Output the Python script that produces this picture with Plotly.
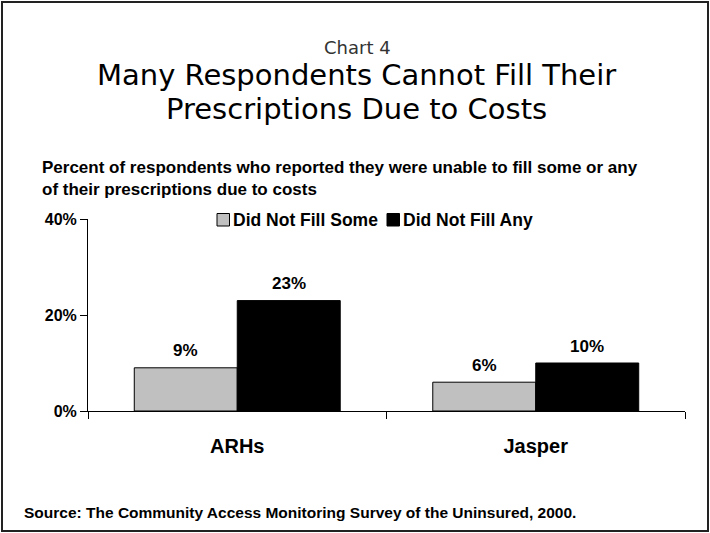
import plotly.graph_objects as go

categories = ["ARHs", "Jasper"]
did_not_fill_some = [9, 6]
did_not_fill_any = [23, 10]
series_names = ["Did Not Fill Some", "Did Not Fill Any"]
series_colors = ["#c0c0c0", "#000000"]
y_ticks = [0, 20, 40]
y_tick_labels = ["0%", "20%", "40%"]

W, H = 710, 533
L, R, T, B = 88, 25, 219, 122
PW, PH = W - L - R, H - T - B

def px(x):
    return (x - L) / PW

def py(y):
    return (H - B - y) / PH

ARIAL = "Liberation Sans, Arial, sans-serif"
TITLEF = "DejaVu Sans, Verdana, sans-serif"
BARGAP = 0.31

fig = go.Figure()
for name, vals, col in zip(series_names, [did_not_fill_some, did_not_fill_any], series_colors):
    fig.add_trace(go.Bar(
        name=name, x=categories, y=vals,
        marker=dict(color=col, line=dict(color="black", width=1)),
        showlegend=False,
    ))

annotations = []
# value labels above bars (data coordinates)
half = (1 - BARGAP) / 2
for si, vals in enumerate([did_not_fill_some, did_not_fill_any]):
    offset = -half / 2 if si == 0 else half / 2
    for ci, v in enumerate(vals):
        annotations.append(dict(
            x=ci + offset, y=v, xref="x", yref="y", text=f"<b>{v}%</b>",
            showarrow=False, yanchor="middle", yshift=17,
            font=dict(family=ARIAL, size=17, color="black")))

annotations += [
    dict(text="Chart 4", xref="paper", yref="paper", x=px(357), y=py(47),
         xanchor="center", yanchor="middle", showarrow=False,
         font=dict(family=TITLEF, size=18, color="#333")),
    dict(text="Many Respondents Cannot Fill Their",
         xref="paper", yref="paper", x=px(356), y=py(75),
         xanchor="center", yanchor="middle", showarrow=False,
         font=dict(family=TITLEF, size=29, color="black")),
    dict(text="Prescriptions Due to Costs",
         xref="paper", yref="paper", x=px(356), y=py(109),
         xanchor="center", yanchor="middle", showarrow=False,
         font=dict(family=TITLEF, size=29, color="black")),
    dict(text="<b>Percent of respondents who reported they were unable to fill some or any</b>",
         xref="paper", yref="paper", x=px(40), y=py(167), align="left",
         xanchor="left", yanchor="middle", showarrow=False,
         font=dict(family=ARIAL, size=17, color="black")),
    dict(text="<b>of their prescriptions due to costs</b>",
         xref="paper", yref="paper", x=px(40), y=py(189), align="left",
         xanchor="left", yanchor="middle", showarrow=False,
         font=dict(family=ARIAL, size=17, color="black")),
    dict(text="<b>Source: The Community Access Monitoring Survey of the Uninsured, 2000.</b>",
         xref="paper", yref="paper", x=px(22), y=py(512), align="left",
         xanchor="left", yanchor="middle", showarrow=False,
         font=dict(family=ARIAL, size=15.5, color="black")),
]

# legend (swatches + labels)
legend_x = [217, 387]
shapes = []
for name, col, lx in zip(series_names, series_colors, legend_x):
    shapes.append(dict(type="rect", xref="paper", yref="paper",
                       x0=px(lx), x1=px(lx + 12.5), y0=py(226), y1=py(213.5),
                       fillcolor=col, line=dict(color="black", width=1)))
    annotations.append(dict(text=f"<b>{name}</b>", xref="paper", yref="paper",
                            x=px(lx + 14), y=py(219.5), xanchor="left", yanchor="middle",
                            showarrow=False, font=dict(family=ARIAL, size=17.5, color="black")))

shapes.append(dict(type="rect", xref="paper", yref="paper",
                   x0=px(2), x1=px(708), y0=py(531), y1=py(2),
                   line=dict(color="#222", width=2), fillcolor="rgba(0,0,0,0)"))

fig.update_layout(
    width=W, height=H,
    margin=dict(l=L, r=R, t=T, b=B),
    paper_bgcolor="white", plot_bgcolor="white",
    barmode="group", bargap=BARGAP, bargroupgap=0,
    showlegend=False,
    xaxis=dict(showline=True, linecolor="black", linewidth=1, ticks="outside",
               tickson="boundaries", ticklen=7, tickcolor="black",
               tickvals=categories, ticktext=[f"<b>{c}</b>" for c in categories],
               tickfont=dict(family=ARIAL, size=20, color="black"),
               ticklabelstandoff=17, showgrid=False),
    yaxis=dict(range=[0, 40], tickvals=y_ticks, ticktext=[f"<b>{t}</b>" for t in y_tick_labels],
               showline=True, linecolor="black", linewidth=1, ticks="outside",
               ticklen=7, tickcolor="black",
               tickfont=dict(family=ARIAL, size=16, color="black"),
               showgrid=False, zeroline=False),
    shapes=shapes,
    annotations=annotations,
)

fig.write_html("out.html", config={"displayModeBar": False},
               post_script="document.body.style.margin='0';document.body.style.overflow='hidden';")
